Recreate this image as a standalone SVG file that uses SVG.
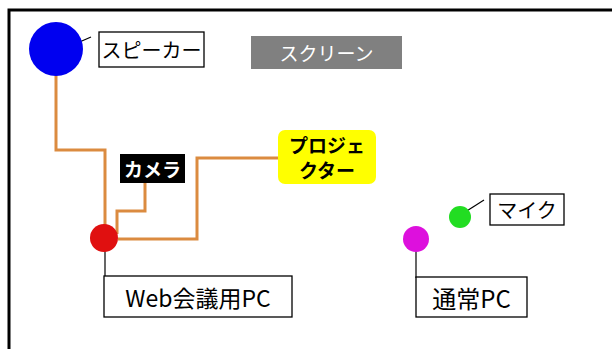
<svg xmlns="http://www.w3.org/2000/svg" width="612" height="349" viewBox="0 0 612 349">
<style>
.lbl{fill:#fff;stroke:#000;stroke-width:1.3}
.t{font-family:"Noto Sans CJK JP","Liberation Sans",sans-serif;font-size:20px;fill:#000;text-anchor:middle;dominant-baseline:central}
.cable{fill:none;stroke:#DB8B40;stroke-width:3}
.lead{fill:none;stroke:#000;stroke-width:1.2}
</style>
<rect width="612" height="349" fill="#fff"/>
<path d="M9,352 V10 H615" fill="none" stroke="#000" stroke-width="3"/>
<g id="connectors">
<path class="cable" d="M56,75 V150 H105 V232"/>
<path class="cable" d="M145,183 V211 H117 V234"/>
<path class="cable" d="M118,239 H197 V158 H278"/>
<path class="lead" d="M68,47 L91,37"/>
<path class="lead" d="M105,238 V277"/>
<path class="lead" d="M462,214 L484,200"/>
<path class="lead" d="M416,239 V278"/>
</g>
<g id="speaker">
<circle cx="56" cy="49" r="27" fill="#0000F0"/>
<rect class="lbl" x="99" y="32" width="105" height="35"/>
<text class="t" x="151.5" y="49.5">スピーカー</text>
</g>
<g id="screen">
<rect x="251" y="36" width="151" height="33" fill="#808080"/>
<text class="t" x="326.5" y="52.5" style="fill:#fff;font-size:19px">スクリーン</text>
</g>
<g id="camera">
<rect x="120" y="154" width="65" height="29" fill="#000"/>
<text class="t" x="152.5" y="168.5" style="fill:#fff;font-weight:bold;font-size:19px">カメラ</text>
</g>
<g id="projector">
<rect x="278" y="130" width="98" height="54" rx="7" fill="#FFFF00"/>
<text class="t" x="327" y="144" style="font-weight:bold;font-size:19px">プロジェ</text>
<text class="t" x="327" y="169" style="font-weight:bold;font-size:19px">クター</text>
</g>
<g id="webpc">
<circle cx="104" cy="238" r="14" fill="#E01010"/>
<rect class="lbl" x="104" y="276" width="188" height="41"/>
<text class="t" x="198" y="296.5" style="font-size:23px">Web会議用PC</text>
</g>
<g id="mic">
<circle cx="460" cy="217" r="11" fill="#22DD22"/>
<rect class="lbl" x="490" y="194" width="74" height="31"/>
<text class="t" x="527" y="209.5">マイク</text>
</g>
<g id="pc">
<circle cx="416" cy="239" r="13" fill="#DD10DD"/>
<rect class="lbl" x="416" y="277" width="111" height="40"/>
<text class="t" x="471.5" y="297" style="font-size:24px">通常PC</text>
</g>
</svg>
